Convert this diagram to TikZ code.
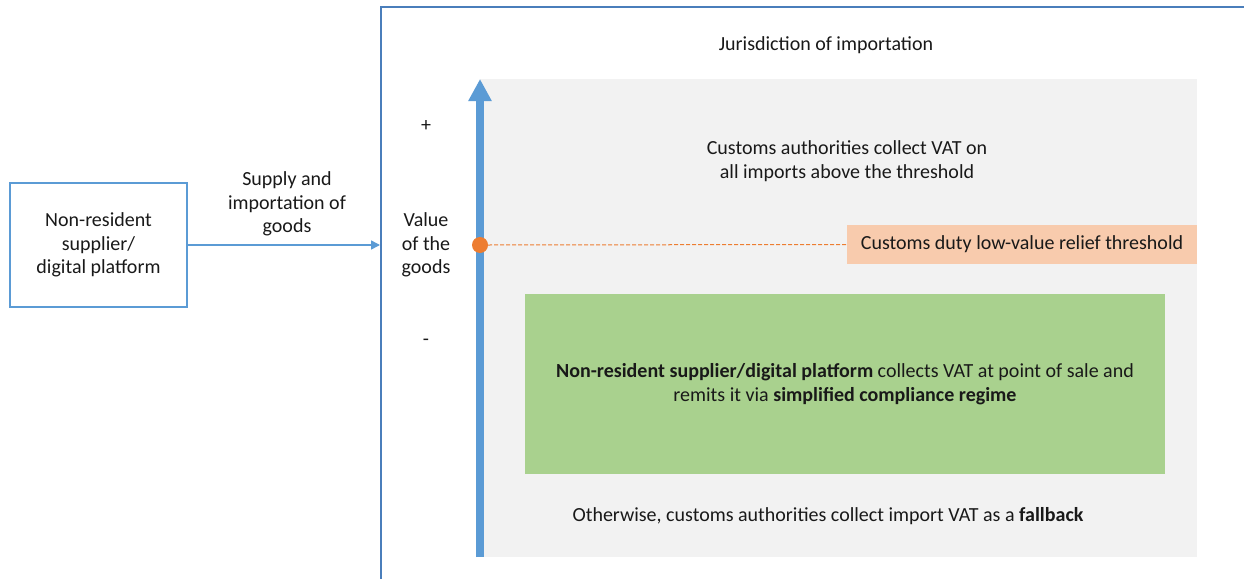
\documentclass[tikz,border=0pt]{standalone}
\usepackage{fontspec}
\setmainfont{Carlito}
\usetikzlibrary{arrows.meta}
\definecolor{frameblue}{HTML}{4A7EBB}
\definecolor{lblue}{HTML}{5B9BD5}
\definecolor{orng}{HTML}{ED7D31}
\definecolor{peach}{HTML}{F8CBAD}
\definecolor{grn}{HTML}{A9D18E}
\definecolor{panel}{HTML}{F2F2F2}
\tikzset{
  txt/.style={font=\fontsize{20}{23.5}\selectfont, align=center, inner sep=0pt, text=black!90},
  fillbox/.style={draw=none, inner sep=0pt, outer sep=0pt},
}
\begin{document}
\begin{tikzpicture}[x=1pt,y=-1pt]
\useasboundingbox[fill=white] (0,0) rectangle (1244,578);
% outer jurisdiction frame
\draw[frameblue, line width=2pt] (381,580) -- (381,7) -- (1246,7);
% gray panel
\fill[panel] (480,79) rectangle (1197,557);
% nodes
\node[draw=lblue, line width=1.5pt, minimum width=177pt, minimum height=124pt, txt] (sup) at (98.5,245) {Non-resident\\supplier/\\digital platform};
\coordinate (entry) at (380,245);
\draw[lblue, line width=1.5pt, -{Triangle[width=9pt,length=9pt]}] (sup.east) -- (entry);
\node[txt] (supl) at (287,204) {Supply and\\importation of\\goods};
\node[txt] (jur) at (826,45) {Jurisdiction of importation};
\node[txt] (val) at (426,245) {Value\\of the\\goods};
\node[txt] (plus) at (426,126) {+};
\node[txt] (minus) at (426,342) {-};
% value axis
\coordinate (axb) at (480,557);
\coordinate (axt) at (480,79);
\draw[lblue, line width=8pt, -{Triangle[width=22pt,length=22pt]}] (axb) -- (axt);
% threshold
\node[fillbox, fill=peach, minimum width=350pt, minimum height=39pt, txt] (thr) at (1022,244.5) {Customs duty low-value relief threshold};
\node[circle, fill=orng, minimum size=16pt, inner sep=0pt] (dot) at (480,245) {};
\draw[orng, line width=1pt, dashed, dash pattern=on 4pt off 2pt] (dot.east) -- (thr.west);
\node[txt] (above) at (847,161) {Customs authorities collect VAT on\\all imports above the threshold};
\node[fillbox, fill=grn, minimum width=640pt, minimum height=180pt, txt] (green) at (845,384) {\textbf{Non-resident supplier/digital platform} collects VAT at point of sale and\\remits it via \textbf{simplified compliance regime}};
\node[txt] (fb) at (828,516) {Otherwise, customs authorities collect import VAT as a \textbf{fallback}};
\end{tikzpicture}
\end{document}
